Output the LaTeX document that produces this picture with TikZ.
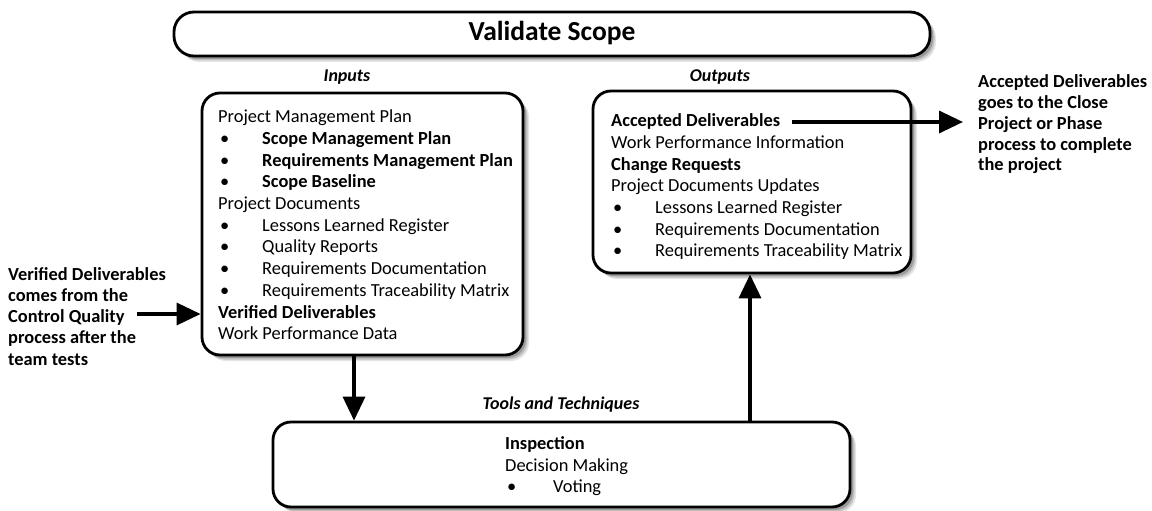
\documentclass[tikz,border=0pt]{standalone}
\usepackage{fontspec}
\setmainfont{Carlito}
\usetikzlibrary{arrows.meta,shadows}
\begin{document}
\begin{tikzpicture}[x=1pt,y=1pt,
  box/.style={draw=black, line width=2.8pt, fill=white, rounded corners=18pt,
    drop shadow={shadow xshift=6pt, shadow yshift=-6pt, fill=black, opacity=0.10},
    drop shadow={shadow xshift=4.5pt, shadow yshift=-4.5pt, fill=black, opacity=0.15},
    drop shadow={shadow xshift=3pt, shadow yshift=-3pt, fill=black, opacity=0.2},
    inner sep=0pt},
  txt/.style={anchor=base west, inner sep=0pt, font=\fontsize{18.4}{22}\selectfont},
  btxt/.style={txt, font=\fontsize{18.4}{22}\selectfont\bfseries},
  lbl/.style={inner sep=0pt, font=\fontsize{18}{22}\selectfont\bfseries\itshape},
  arr/.style={line width=3.5pt, -{Triangle[length=24pt, width=22pt]}},
]
\useasboundingbox (0,0) rectangle (1152,-511);
\fill[white] (0,0) rectangle (1152,-511);

% title
\node[box, minimum width=756, minimum height=44, rounded corners=20pt] (title) at (552,-34) {};
\node[inner sep=0pt, font=\fontsize{27.5}{30}\selectfont\bfseries] (ttl) at (552,-33) {Validate Scope};

% Inputs
\node[lbl] (inl) at (347,-77) {Inputs};
\node[box, minimum width=321, minimum height=262] (in) at (362.5,-224) {};
\node[txt]  (i1) at (218,-122.7) {Project Management Plan};
\node[txt]  (i2b) at (220,-144.4) {•};
\node[btxt] (i2) at (262,-144.4) {Scope Management Plan};
\node[txt]  (i3b) at (220,-166.1) {•};
\node[btxt] (i3) at (262,-166.1) {Requirements Management Plan};
\node[txt]  (i4b) at (220,-187.8) {•};
\node[btxt] (i4) at (262,-187.8) {Scope Baseline};
\node[txt]  (i5) at (218,-209.5) {Project Documents};
\node[txt]  (i6b) at (220,-231.2) {•};
\node[txt]  (i6) at (262,-231.2) {Lessons Learned Register};
\node[txt]  (i7b) at (220,-252.9) {•};
\node[txt]  (i7) at (262,-252.9) {Quality Reports};
\node[txt]  (i8b) at (220,-274.6) {•};
\node[txt]  (i8) at (262,-274.6) {Requirements Documentation};
\node[txt]  (i9b) at (220,-296.3) {•};
\node[txt]  (i9) at (262,-296.3) {Requirements Traceability Matrix};
\node[btxt] (i10) at (218,-318.0) {Verified Deliverables};
\node[txt]  (i11) at (218,-339.7) {Work Performance Data};

% Outputs
\node[lbl] (outl) at (720,-77) {Outputs};
\node[box, minimum width=318, minimum height=182] (out) at (752,-182) {};
\node[btxt] (o1) at (611,-126.7) {Accepted Deliverables};
\node[txt]  (o2) at (611,-148.4) {Work Performance Information};
\node[btxt] (o3) at (611,-170.1) {Change Requests};
\node[txt]  (o4) at (611,-191.8) {Project Documents Updates};
\node[txt]  (o5b) at (613,-213.5) {•};
\node[txt]  (o5) at (655,-213.5) {Lessons Learned Register};
\node[txt]  (o6b) at (613,-235.2) {•};
\node[txt]  (o6) at (655,-235.2) {Requirements Documentation};
\node[txt]  (o7b) at (613,-256.9) {•};
\node[txt]  (o7) at (655,-256.9) {Requirements Traceability Matrix};

% Tools
\node[lbl] (tl) at (561,-405) {Tools and Techniques};
\node[box, minimum width=577, minimum height=85] (tt) at (561.5,-464.5) {};
\node[btxt] (t1) at (505,-449.5) {Inspection};
\node[txt]  (t2) at (505,-471) {Decision Making};
\node[txt]  (t3b) at (507,-492.5) {•};
\node[txt]  (t3) at (553,-492.5) {Voting};

% right note
\node[btxt] (r1) at (978,-87.7) {Accepted Deliverables};
\node[btxt] (r2) at (978,-108.5) {goes to the Close};
\node[btxt] (r3) at (978,-129.3) {Project or Phase};
\node[btxt] (r4) at (978,-150.1) {process to complete};
\node[btxt] (r5) at (978,-170.9) {the project};

% left note
\node[btxt] (l1) at (8,-280) {Verified Deliverables};
\node[btxt] (l2) at (8,-301.3) {comes from the};
\node[btxt] (l3) at (8,-322.6) {Control Quality};
\node[btxt] (l4) at (8,-343.9) {process after the};
\node[btxt] (l5) at (8,-365.2) {team tests};

% connectors
\coordinate (la) at (137,-314);
\draw[arr] (la) -- (la -| in.west);
\coordinate (ra) at (792,-122);
\draw[arr, shorten >=15pt] (ra) -- (ra -| r1.west);
\draw[arr] ([xshift=-8.5pt]in.south) -- ([xshift=-8.5pt]in.south |- tt.north);
\draw[arr] ([xshift=188.5pt]tt.north) -- ([xshift=188.5pt]tt.north |- out.south);
\end{tikzpicture}
\end{document}
